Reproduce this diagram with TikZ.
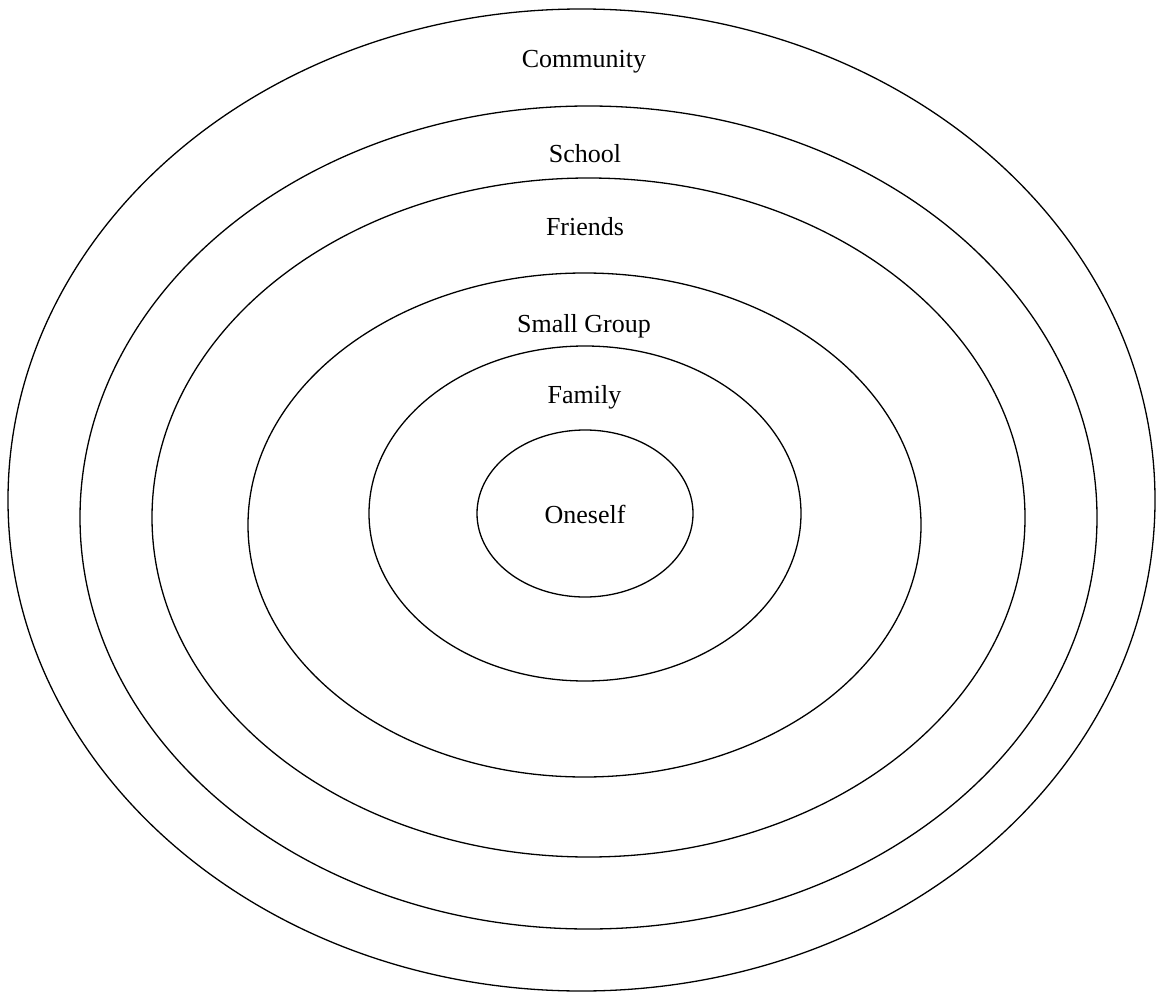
\documentclass[tikz,border=0pt]{standalone}
\usepackage{fontspec}
\setmainfont{Liberation Serif}
\begin{document}
\begin{tikzpicture}[x=1pt,y=-1pt,
  ring/.style={draw=black,line width=1.3pt},
  lbl/.style={anchor=base,inner sep=0pt,font=\fontsize{26}{30}\selectfont}]
\useasboundingbox (0,0) rectangle (1156,992);
\draw[ring] (581.5,500) ellipse [x radius=573.5, y radius=491];
\draw[ring] (588.5,517.5) ellipse [x radius=508.5, y radius=411.5];
\draw[ring] (588.5,517.5) ellipse [x radius=436.5, y radius=339.5];
\draw[ring] (584.5,525) ellipse [x radius=336.5, y radius=252];
\draw[ring] (585,513.5) ellipse [x radius=216, y radius=167.5];
\draw[ring] (585,513.5) ellipse [x radius=108, y radius=83.5];
\node[lbl] (community) at (584,68) {Community};
\node[lbl] (school) at (585,163) {School};
\node[lbl] (friends) at (585,236) {Friends};
\node[lbl] (smallgroup) at (584,332) {Small Group};
\node[lbl] (family) at (584.5,403) {Family};
\node[lbl] (oneself) at (585,523) {Oneself};
\end{tikzpicture}
\end{document}
